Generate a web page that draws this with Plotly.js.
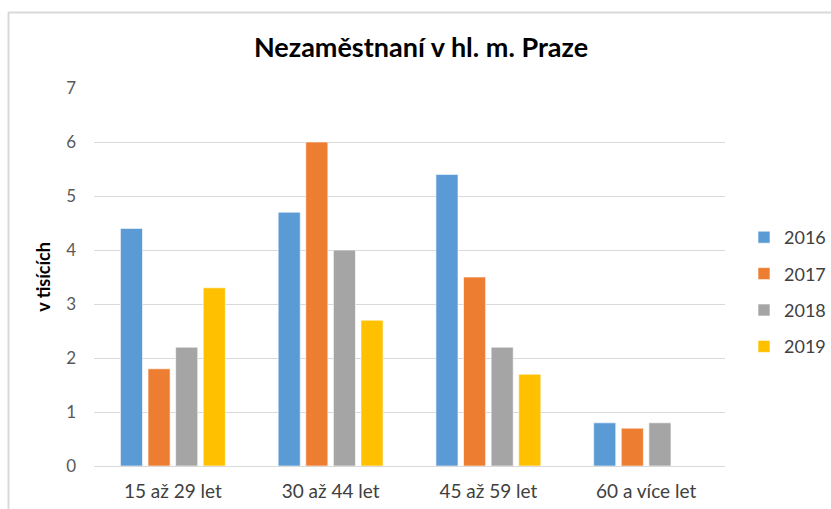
<!DOCTYPE html>
<html>
<head>
<meta charset="utf-8">
<script src="https://cdn.plot.ly/plotly-3.0.1.min.js"></script>
<style>html,body{margin:0;padding:0;background:#fff;}#chart{width:831px;height:509px;}</style>
</head>
<body>
<div id="chart"></div>
<script>
const categories = ["15 až 29 let", "30 až 44 let", "45 až 59 let", "60 a více let"];
const years = ["2016", "2017", "2018", "2019"];
const v2016 = [4.4, 4.7, 5.4, 0.8];
const v2017 = [1.8, 6.0, 3.5, 0.7];
const v2018 = [2.2, 4.0, 2.2, 0.8];
const v2019 = [3.3, 2.7, 1.7, null];
const colors = ["#5b9bd5", "#ed7d31", "#a5a5a5", "#ffc000"];

const series = [v2016, v2017, v2018, v2019];
const traces = series.map((vals, i) => ({
  type: "bar",
  name: years[i],
  x: categories,
  y: vals,
  legendgroup: "g" + i,
  marker: {color: colors[i], line: {color: "rgba(255,255,255,0.6)", width: 1}},
  hoverinfo: "x+y+name"
}));

// plot area in pixels: x 94..725, y 88..466
const L = 94, R = 725, T = 88, B = 466, W = 831, H = 509;
const px = x => (x - L) / (R - L);
const py = y => (B - y) / (B - T);

const layout = {
  width: W, height: H,
  margin: {l: L, r: W - R, t: T, b: H - B, pad: 0, autoexpand: false},
  paper_bgcolor: "#ffffff",
  plot_bgcolor: "#ffffff",
  font: {family: "Lato, 'Open Sans', sans-serif", color: "#595959"},
  title: {
    text: "<b>Nezaměstnaní v hl. m. Praze</b>",
    font: {family: "Lato, 'Open Sans', sans-serif", size: 27, color: "#000000"},
    x: px(421), xref: "paper", xanchor: "center",
    y: 1 - 48 / H, yref: "container", yanchor: "middle"
  },
  barmode: "group",
  bargap: 0.30,
  bargroupgap: 0.2,
  xaxis: {
    type: "category",
    showgrid: false,
    showline: false,
    zeroline: false,
    ticks: "",
    tickfont: {size: 19, color: "#404040"},
    ticklabelstandoff: 12,
    fixedrange: true
  },
  yaxis: {
    range: [0, 7],
    dtick: 1,
    tick0: 0,
    showgrid: true,
    gridcolor: "#d9d9d9",
    gridwidth: 1,
    zeroline: true,
    zerolinecolor: "#d9d9d9",
    zerolinewidth: 1,
    showline: false,
    ticks: "",
    ticklabelstandoff: 17,
    tickfont: {size: 17, color: "#595959"},
    title: {
      text: "<b>v tisících</b>",
      font: {size: 18, color: "#000000"},
      standoff: 10
    },
    fixedrange: true
  },
  showlegend: true,
  legend: {
    x: px(744), xanchor: "left",
    y: py(219), yanchor: "top",
    font: {size: 18, color: "#404040"},
    traceorder: "grouped",
    tracegroupgap: 10,
    itemwidth: 30,
    bgcolor: "rgba(0,0,0,0)"
  },
  shapes: [
    {type: "line", xref: "paper", yref: "paper", x0: px(8), x1: px(835), y0: py(12.5), y1: py(12.5), line: {color: "#d9d9d9", width: 2}},
    {type: "line", xref: "paper", yref: "paper", x0: px(8.5), x1: px(8.5), y0: py(12.5), y1: py(512), line: {color: "#d9d9d9", width: 2}}
  ]
};

Plotly.newPlot("chart", traces, layout, {displayModeBar: false, staticPlot: true});
</script>
</body>
</html>
